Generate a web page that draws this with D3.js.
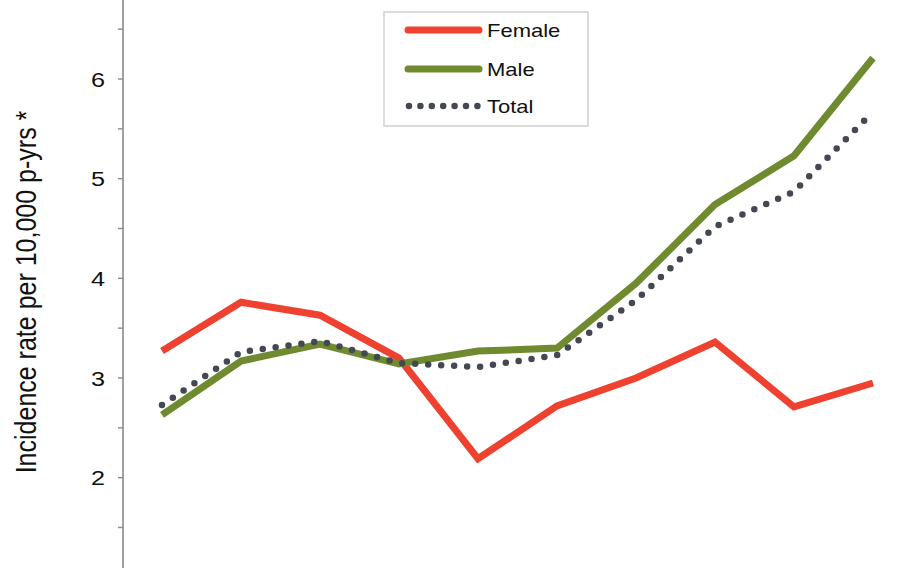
<!DOCTYPE html>
<html>
<head>
<meta charset="utf-8">
<script src="https://cdn.jsdelivr.net/npm/d3@7"></script>
<style>
  html, body { margin: 0; padding: 0; background: #fff; }
  svg { display: block; }
  text { font-family: "Liberation Sans", Arial, Helvetica, sans-serif; fill: #111; }
</style>
</head>
<body>
<svg id="chart" width="910" height="568"></svg>
<script>
// ---- data ----
const periods = [1, 2, 3, 4, 5, 6, 7, 8, 9, 10];
const female = [3.27, 3.76, 3.63, 3.20, 2.19, 2.72, 3.00, 3.36, 2.71, 2.95];
const male   = [2.63, 3.17, 3.34, 3.14, 3.27, 3.30, 3.95, 4.74, 5.23, 6.21];
const total  = [2.73, 3.26, 3.37, 3.15, 3.11, 3.23, 3.78, 4.52, 4.87, 5.67];
const yTickValues = [1.5, 2, 2.5, 3, 3.5, 4, 4.5, 5, 5.5, 6, 6.5, 7];
const yLabeledTicks = [2, 3, 4, 5, 6];
const seriesNames = ["Female", "Male", "Total"];

const svg = d3.select("#chart");

const x = d3.scaleLinear().domain([1, 10]).range([162, 873]);
const y = d3.scaleLinear().domain([3, 6]).range([378, 79]);

// y axis
const axisG = svg.append("g").attr("transform", "translate(123,0)");
axisG.append("line")
  .attr("x1", 0).attr("x2", 0).attr("y1", -5).attr("y2", 575)
  .attr("stroke", "#8a8a8a").attr("stroke-width", 1.6);
axisG.selectAll("line.tick").data(yTickValues).enter().append("line")
  .attr("class", "tick")
  .attr("x1", -5).attr("x2", 0)
  .attr("y1", d => y(d)).attr("y2", d => y(d))
  .attr("stroke", "#8a8a8a").attr("stroke-width", 1.4);
axisG.selectAll("text.tl").data(yLabeledTicks).enter().append("text")
  .attr("class", "tl")
  .attr("transform", d => `translate(-18,${y(d)}) scale(1.2,1)`)
  .attr("dy", "0.36em")
  .attr("text-anchor", "end")
  .attr("font-size", 21)
  .text(d => d);

// y axis title
svg.append("text")
  .attr("transform", "translate(36,292) scale(1.2,1) rotate(-90)")
  .attr("text-anchor", "middle")
  .attr("font-size", 25)
  .text("Incidence rate per 10,000 p-yrs *");

const line = d3.line().x((d, i) => x(periods[i])).y(d => y(d));

svg.append("path").datum(female).attr("d", line)
  .attr("fill", "none").attr("stroke", "#ef4130").attr("stroke-width", 7)
  .attr("stroke-linejoin", "miter");
svg.append("path").datum(male).attr("d", line)
  .attr("fill", "none").attr("stroke", "#6f8a2f").attr("stroke-width", 7)
  .attr("stroke-linejoin", "miter");
svg.append("path").datum(total).attr("d", line)
  .attr("fill", "none").attr("stroke", "#444852").attr("stroke-width", 6.5)
  .attr("stroke-linecap", "round").attr("stroke-dasharray", "0 13");

// legend
const lg = svg.append("g");
lg.append("rect").attr("x", 384).attr("y", 12).attr("width", 204).attr("height", 114)
  .attr("fill", "#fff").attr("stroke", "#cfcfcf").attr("stroke-width", 1.5);
const legendStyles = [
  { color: "#ef4130", dash: null, w: 7 },
  { color: "#6f8a2f", dash: null, w: 7 },
  { color: "#444852", dash: "0 11.4", w: 6.5 }
];
const legendY = [30, 69, 106];
seriesNames.forEach((name, i) => {
  const s = legendStyles[i];
  const ln = lg.append("line")
    .attr("x1", 408).attr("x2", 479)
    .attr("y1", legendY[i]).attr("y2", legendY[i])
    .attr("stroke", s.color).attr("stroke-width", s.w)
    .attr("stroke-linecap", "round");
  if (s.dash) { ln.attr("x1", 409).attr("x2", 478).attr("stroke-dasharray", s.dash); }
  lg.append("text")
    .attr("transform", `translate(487,${legendY[i]}) scale(1.17,1)`)
    .attr("dy", "0.36em")
    .attr("font-size", 18.8)
    .text(name);
});
</script>
</body>
</html>
